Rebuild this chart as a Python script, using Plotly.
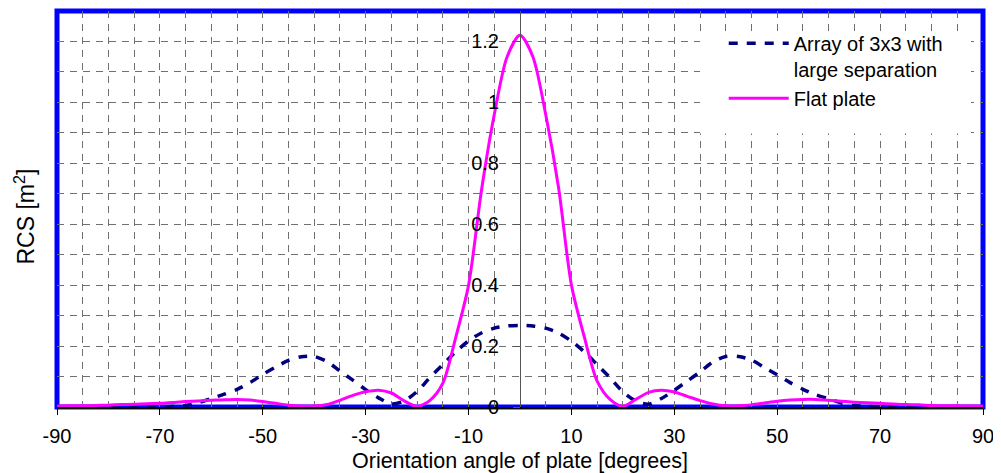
import plotly.graph_objects as go

angles = [-90 + 2.5 * i for i in range(73)]

flat_plate = [
    0.003, 0.004, 0.004, 0.005, 0.006, 0.008, 0.009, 0.011, 0.012, 0.015,
    0.018, 0.020, 0.022, 0.024, 0.025, 0.023, 0.018, 0.012, 0.006, 0.003,
    0.003, 0.008, 0.022, 0.038, 0.050, 0.055, 0.046, 0.020, 0.002, 0.022,
    0.078, 0.228, 0.400, 0.710, 0.960, 1.150, 1.220,
    1.150, 0.960, 0.720, 0.400, 0.230, 0.085, 0.025, 0.002, 0.025, 0.048,
    0.055, 0.049, 0.035, 0.021, 0.010, 0.004, 0.004, 0.007, 0.013, 0.019,
    0.023, 0.025, 0.025, 0.022, 0.019, 0.016, 0.014, 0.012, 0.010, 0.008,
    0.007, 0.005, 0.004, 0.004, 0.003, 0.003,
]

array_3x3 = [
    0.0, 0.0, 0.0, 0.0, 0.0, 0.0, 0.0, 0.0, 0.0, 0.002,
    0.005, 0.014, 0.028, 0.042, 0.058, 0.080, 0.107, 0.131, 0.153, 0.165,
    0.166, 0.149, 0.118, 0.088, 0.057, 0.030, 0.010, 0.020, 0.051, 0.097,
    0.139, 0.181, 0.217, 0.243, 0.259, 0.266, 0.268,
    0.266, 0.259, 0.243, 0.216, 0.181, 0.139, 0.096, 0.050, 0.020, 0.009,
    0.028, 0.055, 0.085, 0.115, 0.148, 0.166, 0.166, 0.154, 0.130, 0.106,
    0.080, 0.058, 0.040, 0.027, 0.013, 0.005, 0.002, 0.0, 0.0, 0.0,
    0.0, 0.0, 0.0, 0.0, 0.0, 0.0,
]

x_tick_vals = [-90, -70, -50, -30, -10, 10, 30, 50, 70, 90]
x_tick_text = ["-90", "-70", "-50", "-30", "-10", "10", "30", "50", "70", "90"]
y_tick_vals = [0, 0.2, 0.4, 0.6, 0.8, 1.0, 1.2]
y_tick_text = ["0", "0.2", "0.4", "0.6", "0.8", "1", "1.2"]

FONT = "Liberation Sans, Arial, sans-serif"
GRID = "#707070"
GDASH = "7px,6px"

# page body has an 8px margin: figure is placed at (8, 8)
W, H = 993, 465
L, R, T, B = 49, 18, 3, 66

fig = go.Figure()
fig.add_trace(go.Scatter(
    x=angles, y=array_3x3, mode="lines",
    name="Array of 3x3 with<br>large separation",
    line=dict(color="#000080", width=3.5, dash="9px,9px", shape="spline", smoothing=0.8),
))
fig.add_trace(go.Scatter(
    x=angles, y=flat_plate, mode="lines",
    name="Flat plate",
    line=dict(color="#ff00ff", width=3, shape="spline", smoothing=0.8),
))

plot_w = W - L - R
plot_h = H - T - B

fig.update_layout(
    width=W, height=H,
    margin=dict(l=L, r=R, t=T, b=B, autoexpand=False),
    paper_bgcolor="white", plot_bgcolor="white",
    font=dict(family=FONT, size=20, color="black"),
    showlegend=True,
    legend=dict(
        x=0.72, y=0.968, xanchor="left", yanchor="top",
        bgcolor="rgba(0,0,0,0)", borderwidth=0,
        font=dict(size=20), itemwidth=60, valign="top",
        tracegroupgap=0,
    ),
    xaxis=dict(
        range=[-90, 90], tickmode="array", tickvals=x_tick_vals, ticktext=x_tick_text,
        ticks="outside", ticklen=6, tickcolor="black", ticklabelstandoff=4,
        showline=True, linecolor="black", linewidth=2,
        showgrid=True, gridcolor=GRID, gridwidth=1, griddash=GDASH,
        zeroline=False,
        minor=dict(dtick=5, tick0=-90, showgrid=True, gridcolor=GRID,
                   gridwidth=1, griddash=GDASH, ticks=""),
        tickfont=dict(size=20),
    ),
    yaxis=dict(
        range=[0, 1.3], tickmode="array", tickvals=y_tick_vals, ticktext=y_tick_text,
        anchor="free", position=0.5, side="left",
        ticks="outside", ticklen=7, tickcolor="#555555",
        ticklabelstandoff=10,
        showline=True, linecolor="#555555", linewidth=1,
        showgrid=True, gridcolor=GRID, gridwidth=1, griddash=GDASH,
        zeroline=False,
        minor=dict(dtick=0.1, tick0=0, showgrid=True, gridcolor=GRID,
                   gridwidth=1, griddash=GDASH, ticks=""),
        tickfont=dict(size=20),
    ),
    shapes=[
        dict(type="rect", xref="x domain", yref="y domain", x0=0, x1=1, y0=0, y1=1,
             line=dict(color="#0000ff", width=5), fillcolor="rgba(0,0,0,0)", layer="below"),
        dict(type="rect", xref="paper", yref="paper",
             x0=(700 - 57) / plot_w, x1=(971 - 57) / plot_w,
             y0=(406.5 - 133) / plot_h, y1=(406.5 - 34) / plot_h,
             line=dict(width=0), fillcolor="white", layer="above"),
    ],
    annotations=[
        dict(text="Orientation angle of plate [degrees]", xref="paper", yref="paper",
             x=0.5, y=-53.5 / plot_h, xanchor="center", yanchor="middle", showarrow=False,
             font=dict(size=21.5)),
        dict(text="RCS [m<sup>2</sup>]", xref="paper", yref="paper",
             x=(24 - 57) / plot_w, y=(406.5 - 216) / plot_h, xanchor="center",
             yanchor="middle", showarrow=False, textangle=-90, font=dict(size=23)),
    ],
)

fig.write_html("out.html")
